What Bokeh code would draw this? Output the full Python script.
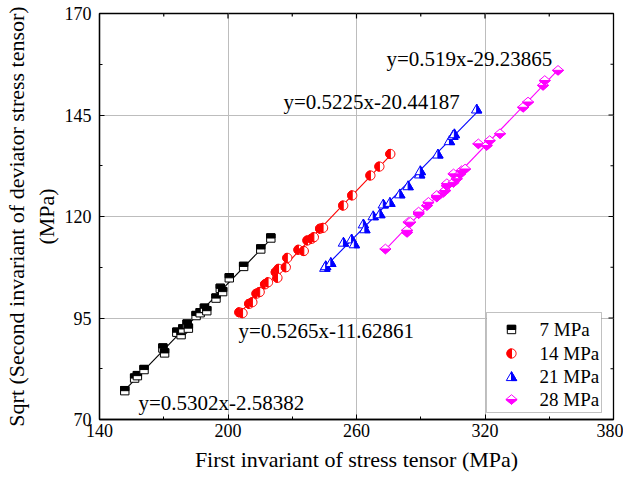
import numpy as np
from bokeh.plotting import figure
from bokeh.models import ColumnDataSource, FixedTicker, Label, BoxAnnotation
from bokeh.embed import file_html
from bokeh.resources import INLINE

# ---------------- data ----------------
series_names = ["7 MPa", "14 MPa", "21 MPa", "28 MPa"]
series_colors = ["#000000", "#ff0000", "#0000ff", "#ff00ff"]
series_markers = ["square", "circle", "triangle", "diamond"]

x_7 = [151.8, 156.4, 157.7, 160.8, 169.6, 170.4, 176.1, 178.1, 178.9, 180.9, 181.5,
       185.1, 187.0, 189.0, 190.1, 194.4, 196.4, 197.5, 200.6, 207.3, 215.3, 220.0]
y_7 = [77.1, 80.2, 80.8, 82.3, 87.6, 86.4, 91.5, 90.9, 92.3, 93.5, 92.5,
       95.6, 96.3, 97.4, 96.8, 99.9, 102.3, 101.5, 104.9, 107.7, 112.0, 114.7]

x_14 = [205.3, 206.8, 209.9, 211.4, 213.3, 214.8, 217.3, 218.7, 222.3, 223.6, 223.1, 227.0,
        227.7, 232.9, 235.4, 237.1, 239.0, 240.1, 243.0, 244.4, 253.8, 258.0, 266.5, 270.7, 275.8]
y_14 = [96.4, 96.2, 98.5, 98.9, 101.0, 101.4, 103.3, 103.8, 106.3, 107.1, 104.9, 107.5,
        109.8, 111.8, 111.5, 114.1, 114.5, 114.9, 117.0, 117.2, 122.7, 125.2, 130.1, 132.3, 135.4]

x_21 = [245.2, 245.6, 248.0, 253.9, 257.7, 259.0, 263.2, 263.9, 267.8, 270.9, 272.5, 275.6,
        280.2, 284.1, 289.5, 289.8, 298.0, 303.4, 305.0, 305.7, 316.1]
y_21 = [107.5, 107.9, 108.7, 113.7, 114.5, 113.3, 118.2, 117.0, 120.2, 120.7, 123.1, 123.5,
        125.6, 127.6, 130.5, 131.3, 135.4, 138.7, 140.0, 140.4, 146.5]

x_28 = [273.5, 283.6, 283.6, 284.3, 285.1, 289.0, 289.0, 292.9, 293.6, 297.5, 297.5, 300.6,
        301.4, 302.2, 302.2, 305.3, 306.8, 305.3, 308.4, 309.1, 310.7, 316.9, 320.8, 322.2,
        327.0, 337.8, 340.1, 347.1, 347.9, 354.1]
y_28 = [112.0, 116.1, 116.6, 118.6, 118.6, 120.7, 121.1, 122.7, 123.5, 124.8, 125.2, 126.0,
        126.4, 127.6, 128.1, 128.4, 129.3, 130.5, 130.5, 131.3, 131.7, 137.9, 137.5, 138.7,
        140.4, 146.9, 148.2, 152.3, 153.5, 156.0]

equations = ["y=0.5302x-2.58382", "y=0.5265x-11.62861",
             "y=0.5225x-20.44187", "y=0.519x-29.23865"]

x_ticks = [140, 200, 260, 320, 380]
x_minor = [170, 230, 290, 350]
y_ticks = [70, 95, 120, 145, 170]
y_minor = [82.5, 107.5, 132.5, 157.5]

all_x = [x_7, x_14, x_21, x_28]
all_y = [y_7, y_14, y_21, y_28]

# ---------------- layout ----------------
X0, X1, Y0, Y1 = 140, 380, 70, 170
FW, FH = 514, 406
KX = (X1 - X0) / FW   # data units per pixel
KY = (Y1 - Y0) / FH
FONT = "Liberation Serif"

p = figure(frame_width=FW, frame_height=FH, x_range=(X0, X1), y_range=(Y0, Y1),
           output_backend="svg", toolbar_location=None,
           min_border_left=98, min_border_right=10, min_border_top=13,
           min_border_bottom=62, background_fill_color="white",
           border_fill_color="white")
p.outline_line_color = "black"
p.outline_line_width = 1.3

xt = FixedTicker(ticks=x_ticks, minor_ticks=x_minor)
yt = FixedTicker(ticks=y_ticks, minor_ticks=y_minor)
p.xaxis.ticker = xt
p.yaxis.ticker = yt
p.xgrid.ticker = xt
p.ygrid.ticker = yt
p.grid.grid_line_color = "#bdbdbd"
p.grid.grid_line_width = 1

for ax in (p.xaxis[0], p.yaxis[0]):
    ax.major_tick_in = 5
    ax.major_tick_out = 0
    ax.minor_tick_in = 3
    ax.minor_tick_out = 0
    ax.axis_line_color = "black"
    ax.axis_line_width = 1.3
    ax.major_label_text_font = FONT
    ax.major_label_text_font_size = "18px"
    ax.major_label_text_color = "black"
    ax.axis_label_text_font = FONT
    ax.axis_label_text_font_style = "normal"
    ax.axis_label_text_font_size = "22px"
    ax.axis_label_text_color = "black"

p.xaxis.axis_label = "First invariant of stress tensor (MPa)"
p.yaxis.axis_label = "Sqrt (Second invariant of deviator stress tensor)\n(MPa)"
p.xaxis.major_label_standoff = 4
p.xaxis.axis_label_standoff = 7
p.yaxis.major_label_standoff = 8
p.yaxis.axis_label_standoff = 3

# mirrored ticks on top and right (no labels)
tx_all = x_ticks[1:-1] + x_minor
tl = [5 if t in x_ticks else 3 for t in tx_all]
p.segment(x0=tx_all, y0=[Y1] * len(tx_all), x1=tx_all,
          y1=[Y1 - l * KY for l in tl], line_color="black", line_width=1.2)
ty_all = y_ticks[1:-1] + y_minor
tl = [5 if t in y_ticks else 3 for t in ty_all]
p.segment(x0=[X1] * len(ty_all), y0=ty_all, x1=[X1 - l * KX for l in tl],
          y1=ty_all, line_color="black", line_width=1.2)


# ---------------- marker shapes (pixel offsets) ----------------
def shape(kind):
    if kind == "square":
        s = 4.2
        out = [(-s, -s), (s, -s), (s, s), (-s, s)]
        half = [(-s, 0), (s, 0), (s, s), (-s, s)]
    elif kind == "circle":
        r = 4.6
        a = np.linspace(0, 2 * np.pi, 25)[:-1]
        out = list(zip(r * np.cos(a), r * np.sin(a)))
        b = np.linspace(np.pi / 2, 3 * np.pi / 2, 13)
        half = list(zip(r * np.cos(b), r * np.sin(b)))
    elif kind == "triangle":
        w, h = 5.2, 4.8
        out = [(0, h), (-w, -h * 0.85), (w, -h * 0.85)]
        half = [(0, h), (0, -h * 0.85), (w, -h * 0.85)]
    else:  # diamond
        w, h = 5.6, 4.8
        out = [(0, h), (w, 0), (0, -h), (-w, 0)]
        half = [(-w, 0), (w, 0), (0, -h)]
    return out, half


def marker_patches(xs, ys, kind, color):
    out, half = shape(kind)
    px, py, fc = [], [], []
    for x, y in zip(xs, ys):
        for poly, f in ((out, "white"), (half, color)):
            px.append([x + dx * KX for dx, dy in poly])
            py.append([y + dy * KY for dx, dy in poly])
            fc.append(f)
    return ColumnDataSource(dict(xs=px, ys=py, fc=fc))


for xs, ys, kind, color in zip(all_x, all_y, series_markers, series_colors):
    xa, ya = np.array(xs), np.array(ys)
    k, b = np.polyfit(xa, ya, 1)
    lx = np.array([xa.min(), xa.max()])
    p.line(lx, k * lx + b, line_color=color, line_width=1.1)
    src = marker_patches(xs, ys, kind, color)
    p.patches("xs", "ys", source=src, fill_color="fc", line_color=color,
              line_width=1.0)


# ---------------- equation labels (pixel positions) ----------------
def to_data(px, py):
    return X0 + (px - 98) * KX, Y1 - (py - 13) * KY


eq_pos = [(137, 402), (237, 330), (282, 101), (385, 58)]
for txt, (px, py) in zip(equations, eq_pos):
    x, y = to_data(px, py)
    p.add_layout(Label(x=x, y=y, text=txt, text_font=FONT, text_font_size="21px",
                       text_color="black", text_baseline="middle", text_align="left"))

# ---------------- legend ----------------
lx0, ly0 = to_data(485, 312)
lx1, ly1 = to_data(600, 412)
p.add_layout(BoxAnnotation(left=lx0, right=lx1, top=ly0, bottom=ly1,
                           fill_color="white", fill_alpha=1.0, level="underlay",
                           line_color="#333333", line_width=1.0))
rows = [329, 353, 376, 399]
for name, kind, color, ry in zip(series_names, series_markers, series_colors, rows):
    mx, my = to_data(510, ry)
    src = marker_patches([mx], [my], kind, color)
    p.patches("xs", "ys", source=src, fill_color="fc", line_color=color, line_width=1.0)
    tx, ty = to_data(538, ry)
    p.add_layout(Label(x=tx, y=ty, text=name, text_font=FONT, text_font_size="19px",
                       text_color="black", text_baseline="middle", text_align="left"))

open("out.html", "w").write(file_html(p, INLINE))
